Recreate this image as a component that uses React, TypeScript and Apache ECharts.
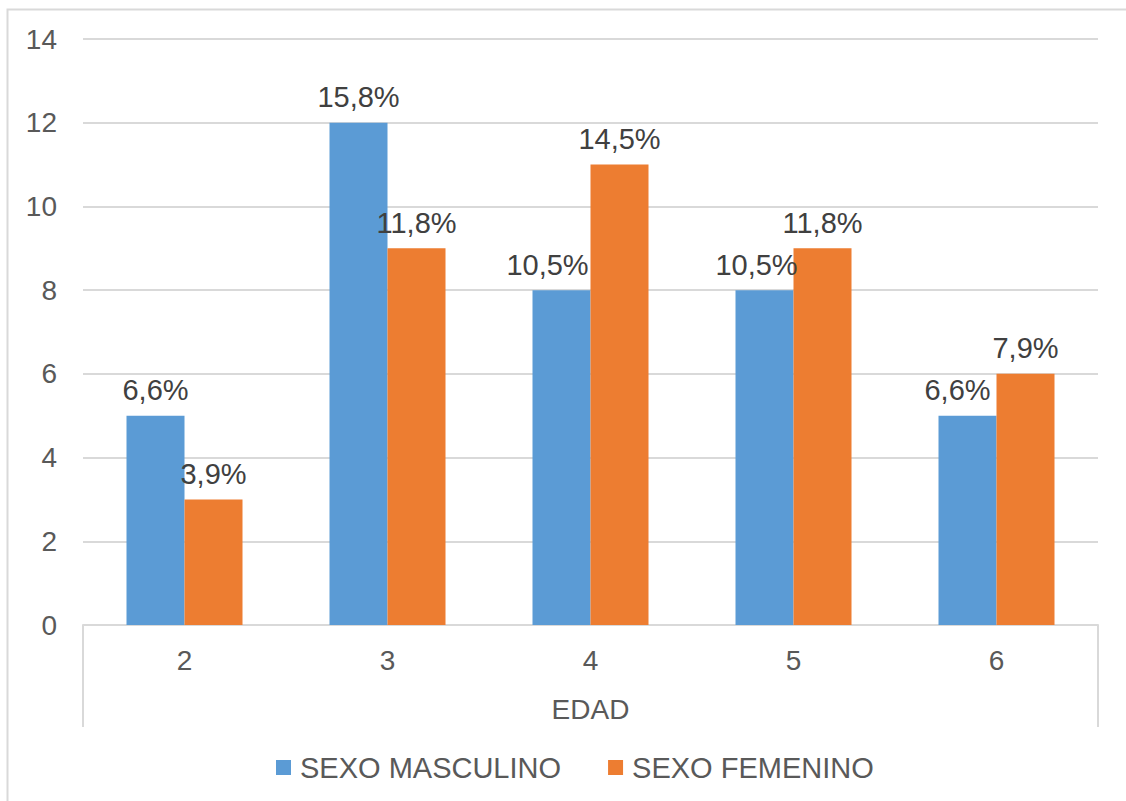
import React, { useEffect, useRef } from "react";
import * as echarts from "echarts";

const categories = ["2", "3", "4", "5", "6"];
const masculino = [5, 12, 8, 8, 5];
const femenino = [3, 9, 11, 9, 6];
const masculinoLabels = ["6,6%", "15,8%", "10,5%", "10,5%", "6,6%"];
const femeninoLabels = ["3,9%", "11,8%", "14,5%", "11,8%", "7,9%"];
const masculinoLabelShift = [0, 0, -14, -8, -10];
const yTicks = { min: 0, max: 14, interval: 2 };

export default function App() {
  const ref = useRef<HTMLDivElement>(null);
  useEffect(() => {
    if (!ref.current) return;
    const chart = echarts.init(ref.current, null, { renderer: "svg" });
    const font = "'Liberation Sans', Arial, sans-serif";
    const labelBase = {
      show: true,
      position: "top",
      distance: 11,
      fontSize: 29,
      color: "#404040",
      fontFamily: font,
    };
    chart.setOption({
      animation: false,
      backgroundColor: "#ffffff",
      textStyle: { fontFamily: font },
      grid: { left: 83, right: 28, top: 39, bottom: 176, containLabel: false },
      legend: {
        top: 748,
        left: 271,
        itemWidth: 15,
        itemHeight: 15,
        itemGap: 47,
        icon: "rect",
        textStyle: { fontSize: 29, color: "#595959", fontFamily: font, padding: [0, 0, 0, 4] },
        data: ["SEXO MASCULINO", "SEXO FEMENINO"],
      },
      xAxis: {
        type: "category",
        data: categories,
        name: "EDAD",
        nameLocation: "middle",
        nameGap: 70,
        nameTextStyle: { fontSize: 28, color: "#595959", fontFamily: font },
        axisLine: { show: true, lineStyle: { color: "#d9d9d9", width: 2 } },
        axisTick: { show: false },
        axisLabel: { fontSize: 28, color: "#595959", margin: 21, fontFamily: font },
      },
      yAxis: {
        type: "value",
        min: yTicks.min,
        max: yTicks.max,
        interval: yTicks.interval,
        axisLine: { show: false },
        axisTick: { show: false },
        axisLabel: { fontSize: 28, color: "#595959", margin: 26, fontFamily: font },
        splitLine: { lineStyle: { color: "#d9d9d9", width: 2 } },
      },
      graphic: [
        {
          type: "rect",
          shape: { x: 7.5, y: 9.5, width: 1200, height: 900 },
          style: { fill: "none", stroke: "#d9d9d9", lineWidth: 2 },
          silent: true,
        },
        {
          type: "line",
          shape: { x1: 83, y1: 625, x2: 83, y2: 727 },
          style: { stroke: "#d9d9d9", lineWidth: 2 },
          silent: true,
        },
        {
          type: "line",
          shape: { x1: 1098, y1: 625, x2: 1098, y2: 727 },
          style: { stroke: "#d9d9d9", lineWidth: 2 },
          silent: true,
        },
      ],
      series: [
        {
          name: "SEXO MASCULINO",
          type: "bar",
          barWidth: 58,
          barGap: "0%",
          itemStyle: { color: "#5B9BD5" },
          data: masculino.map((v, i) => ({
            value: v,
            label: {
              ...labelBase,
              formatter: masculinoLabels[i],
              offset: [masculinoLabelShift[i], 0],
            },
          })),
        },
        {
          name: "SEXO FEMENINO",
          type: "bar",
          barWidth: 58,
          barGap: "0%",
          itemStyle: { color: "#ED7D31" },
          data: femenino.map((v, i) => ({
            value: v,
            label: { ...labelBase, formatter: femeninoLabels[i] },
          })),
        },
      ],
    });
    return () => chart.dispose();
  }, []);
  return (
    <div
      ref={ref}
      style={{ position: "absolute", left: 0, top: 0, width: 1126, height: 801 }}
    />
  );
}
